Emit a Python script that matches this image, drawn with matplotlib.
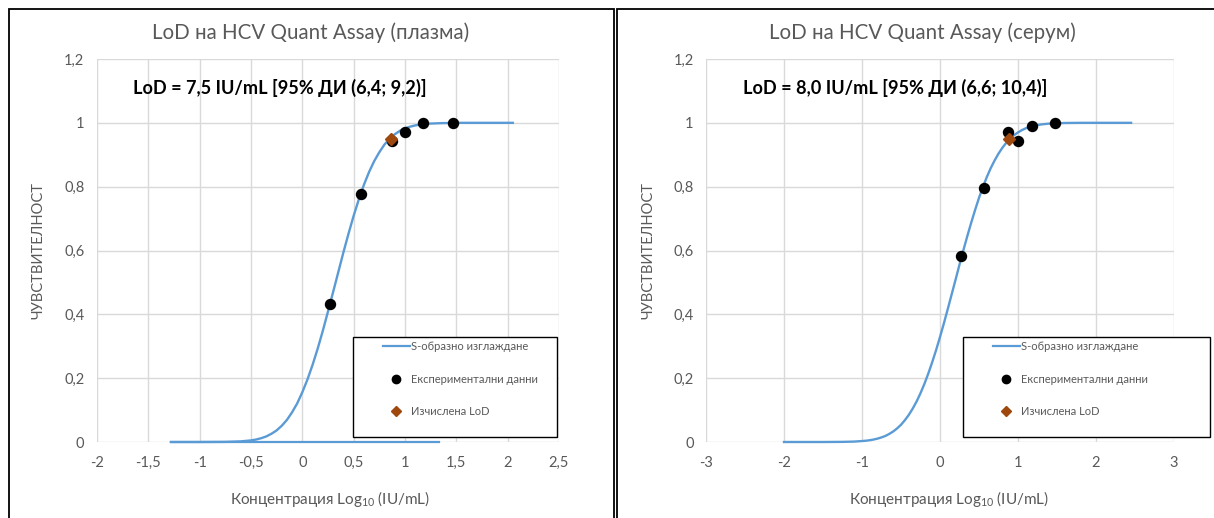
import matplotlib
matplotlib.use("Agg")
import matplotlib.pyplot as plt
from matplotlib.patches import Rectangle
from matplotlib.lines import Line2D

plt.rcParams['font.family'] = ['Lato', 'DejaVu Sans']

# ---------------- data ----------------
titles = ["LoD на HCV Quant Assay (плазма)", "LoD на HCV Quant Assay (серум)"]
lod_texts = ["LoD = 7,5 IU/mL [95% ДИ (6,4; 9,2)]", "LoD = 8,0 IU/mL [95% ДИ (6,6; 10,4)]"]
ylabel = "ЧУВСТВИТЕЛНОСТ"
xlabel = "Концентрация Log$_{\\mathregular{10}}$ (IU/mL)"
legend_labels = ["S-образно изглаждане", "Експериментални данни", "Изчислена LoD"]

# plasma (left)
plasma_curve_x = [-1.28, -1.0, -0.75, -0.6, -0.5, -0.45, -0.4, -0.35, -0.3, -0.25, -0.2, -0.15,
                  -0.1, -0.05, 0.0, 0.05, 0.1, 0.15, 0.2, 0.25, 0.3, 0.35, 0.4, 0.45, 0.5, 0.55,
                  0.6, 0.65, 0.7, 0.75, 0.8, 0.85, 0.9, 0.95, 1.0, 1.05, 1.1, 1.2, 1.35, 1.5,
                  1.75, 2.05]
plasma_curve_y = [0.0, 0.0, 0.0004, 0.002, 0.005, 0.0078, 0.012, 0.0176, 0.026, 0.0364, 0.051,
                  0.0693, 0.093, 0.121, 0.156, 0.196, 0.242, 0.293, 0.349, 0.409, 0.470, 0.532,
                  0.594, 0.653, 0.709, 0.760, 0.806, 0.846, 0.880, 0.908, 0.932, 0.950, 0.964,
                  0.975, 0.983, 0.988, 0.992, 0.997, 0.999, 1.0, 1.0, 1.0]
plasma_base_x = [-1.28, 1.33]
plasma_base_y = [0.0, 0.0]
plasma_pts_x = [0.27, 0.57, 0.873, 0.997, 1.176, 1.47]
plasma_pts_y = [0.433, 0.777, 0.943, 0.972, 1.0, 1.0]
plasma_lod_x = [0.863]
plasma_lod_y = [0.95]
plasma_xticks = [-2, -1.5, -1, -0.5, 0, 0.5, 1, 1.5, 2, 2.5]
plasma_xticklabels = ['-2', '-1,5', '-1', '-0,5', '0', '0,5', '1', '1,5', '2', '2,5']
plasma_xlim = (-2, 2.5)

# serum (right)
serum_curve_x = [-2.0, -1.5, -1.25, -1.1, -1.0, -0.95, -0.9, -0.85, -0.8, -0.75, -0.7, -0.65,
                 -0.6, -0.55, -0.5, -0.45, -0.4, -0.35, -0.3, -0.25, -0.2, -0.15, -0.1, -0.05,
                 0.0, 0.05, 0.1, 0.15, 0.2, 0.25, 0.3, 0.35, 0.4, 0.45, 0.5, 0.55, 0.6, 0.65,
                 0.7, 0.75, 0.8, 0.85, 0.9, 0.95, 1.0, 1.05, 1.1, 1.15, 1.2, 1.3, 1.4, 1.6,
                 1.8, 2.45]
serum_curve_y = [0.0, 0.0, 0.0004, 0.0013, 0.003, 0.0040, 0.0056, 0.0078, 0.0107, 0.0144,
                 0.019, 0.0254, 0.033, 0.0426, 0.054, 0.0684, 0.085, 0.1046, 0.127, 0.153,
                 0.182, 0.2145, 0.250, 0.288, 0.329, 0.372, 0.417, 0.463, 0.509, 0.556, 0.601,
                 0.645, 0.687, 0.727, 0.765, 0.799, 0.830, 0.858, 0.882, 0.9035, 0.922, 0.9376,
                 0.951, 0.9614, 0.970, 0.9772, 0.983, 0.9872, 0.9906, 0.9951, 0.9976, 0.9995,
                 1.0, 1.0]
serum_pts_x = [0.272, 0.57, 0.868, 0.997, 1.174, 1.472]
serum_pts_y = [0.582, 0.795, 0.972, 0.944, 0.991, 1.0]
serum_lod_x = [0.89]
serum_lod_y = [0.95]
serum_xticks = [-3, -2, -1, 0, 1, 2, 3]
serum_xticklabels = ['-3', '-2', '-1', '0', '1', '2', '3']
serum_xlim = (-3, 3)

yticks = [0, 0.2, 0.4, 0.6, 0.8, 1.0, 1.2]
yticklabels = ['0', '0,2', '0,4', '0,6', '0,8', '1', '1,2']
ylim = (0, 1.2)

# ---------------- style ----------------
W, H = 1214, 518
CURVE = '#5B9BD5'
LODC = '#9E480E'
GRID = '#D9D9D9'
TXT = '#595959'

fig = plt.figure(figsize=(W / 100, H / 100), dpi=100)
fig.patch.set_facecolor('white')

def fx(px):
    return px / W

def fy(py):
    return 1 - py / H

# panel borders
fig.add_artist(Rectangle((fx(9), fy(530)), fx(614) - fx(9), fy(9) - fy(530),
                         transform=fig.transFigure, fill=False, ec='black', lw=1.3))
fig.add_artist(Rectangle((fx(617), fy(530)), fx(1230) - fx(617), fy(9) - fy(530),
                         transform=fig.transFigure, fill=False, ec='black', lw=1.3))

panels = [
    dict(rect=(97, 559), title_x=311, cx=plasma_curve_x, cy=plasma_curve_y,
         base=(plasma_base_x, plasma_base_y), px=plasma_pts_x, py=plasma_pts_y,
         lx=plasma_lod_x, ly=plasma_lod_y, xt=plasma_xticks, xtl=plasma_xticklabels,
         xlim=plasma_xlim, leg=(353, 557), xlab_x=0.505, ylab_px=45),
    dict(rect=(706, 1174), title_x=922, cx=serum_curve_x, cy=serum_curve_y,
         base=None, px=serum_pts_x, py=serum_pts_y,
         lx=serum_lod_x, ly=serum_lod_y, xt=serum_xticks, xtl=serum_xticklabels,
         xlim=serum_xlim, leg=(963, 1210), xlab_x=0.52, ylab_px=655),
]

top_px, bot_px = 59, 442

for i, p in enumerate(panels):
    l, r = p['rect']
    ax = fig.add_axes([fx(l), fy(bot_px), fx(r) - fx(l), fy(top_px) - fy(bot_px)])
    ax.set_xlim(*p['xlim'])
    ax.set_ylim(*ylim)
    for s in ax.spines.values():
        s.set_visible(False)
    ax.set_xticks(p['xt'])
    ax.set_xticklabels(p['xtl'])
    ax.set_yticks(yticks)
    ax.set_yticklabels(yticklabels)
    ax.tick_params(length=0, labelsize=10.5, labelcolor=TXT)
    ax.tick_params(axis='x', pad=10)
    ax.tick_params(axis='y', pad=9)
    ax.grid(True, color=GRID, lw=1.0)
    ax.set_axisbelow(True)

    ax.plot(p['cx'], p['cy'], color=CURVE, lw=1.7, zorder=3, clip_on=False)
    if p['base'] is not None:
        ax.plot(p['base'][0], p['base'][1], color=CURVE, lw=1.6, zorder=3, clip_on=False)
    ax.plot(p['px'], p['py'], 'o', color='black', ms=7.2, zorder=4, clip_on=False)
    ax.plot(p['lx'], p['ly'], 'D', color=LODC, ms=6.2, zorder=5, clip_on=False)

    ax.set_xlabel(xlabel, fontsize=11, color=TXT)
    ax.xaxis.set_label_coords(p['xlab_x'], (bot_px - 489) / (bot_px - top_px))
    ax.set_ylabel(ylabel, fontsize=10.5, color=TXT)
    ax.yaxis.set_label_coords((p['ylab_px'] - l) / (r - l), 0.5)

    fig.text(fx(p['title_x']), fy(33), titles[i], ha='center', va='center', fontsize=14.8, color=TXT)
    ax.text(0.078, (bot_px - 88) / (bot_px - top_px), lod_texts[i], transform=ax.transAxes,
            ha='left', va='center', fontsize=13.1, fontweight='bold', color='black')

    # legend
    ll, lr = p['leg']
    lt, lb = 337, 437
    ax.add_patch(Rectangle(((ll - l) / (r - l), (bot_px - lb) / (bot_px - top_px)),
                           (lr - ll) / (r - l), (lb - lt) / (bot_px - top_px),
                           transform=ax.transAxes, fill=True, fc='white', ec='black', lw=1.0,
                           zorder=6, clip_on=False))
    handles = [Line2D([], [], color=CURVE, lw=1.6),
               Line2D([], [], ls='none', marker='o', color='black', ms=6),
               Line2D([], [], ls='none', marker='D', color=LODC, ms=5)]
    leg = ax.legend(handles, legend_labels, loc='upper left',
                    bbox_to_anchor=((ll + 30 - l) / (r - l), (bot_px - lt - 4) / (bot_px - top_px)),
                    frameon=False, fontsize=8, labelcolor=TXT, handlelength=2.4,
                    handletextpad=0.1, labelspacing=1.95, borderpad=0.0, borderaxespad=0.0)
    leg.set_zorder(7)

fig.savefig('out.png', dpi=100, facecolor='white')
